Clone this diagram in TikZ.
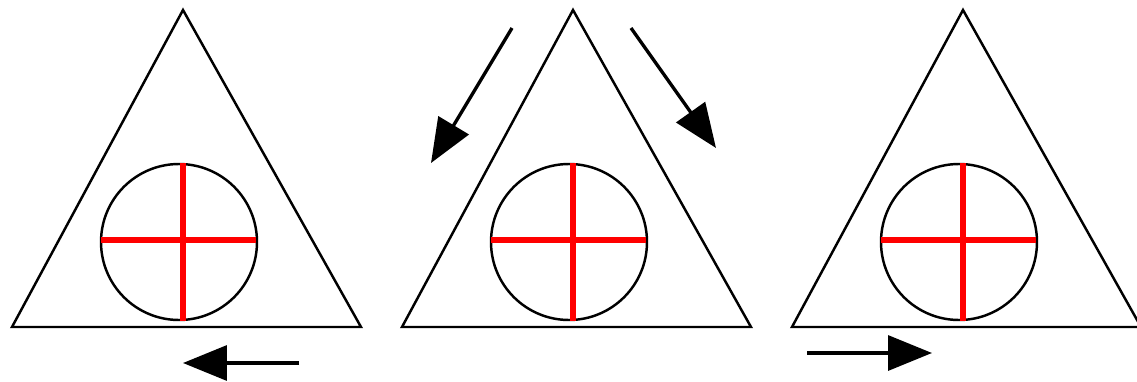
\documentclass[tikz,border=0pt]{standalone}
\usepackage{tikz}
\usetikzlibrary{arrows.meta}
\definecolor{crossred}{HTML}{FF0000}

\begin{document}
\begin{tikzpicture}[
    x=0.02cm,y=-0.02cm,
    tri/.style={draw=black,line width=1.4pt,line join=miter},
    ring/.style={draw=black,line width=1.4pt},
    bar/.style={draw=crossred,line width=3.6pt},
    arr/.style={-{Triangle[length=0.88cm,width=0.7cm]},line width=1.9pt,draw=black}
  ]
    \useasboundingbox (0,0) rectangle (1137,382);
    % three triangles, each with a circle and a red cross
    \foreach \i/\dx in {1/0,2/390,3/780} {
      \coordinate (top\i) at (183+\dx,10);
      \coordinate (bl\i) at (12+\dx,327);
      \coordinate (br\i) at (361+\dx,327);
      \coordinate (c\i) at (179+\dx,242);
      \draw[tri] (top\i) -- (bl\i) -- (br\i) -- cycle;
      \draw[ring] (c\i) circle[radius=78];
      \draw[bar] (101+\dx,240) -- (256+\dx,240);
      \draw[bar] (183+\dx,163) -- (183+\dx,321);
    }
    % motion arrows
    \coordinate (a1) at (299,363);
    \coordinate (b1) at (183,363);
    \coordinate (a2) at (512,28);
    \coordinate (b2) at (431,163);
    \coordinate (a3) at (631,28);
    \coordinate (b3) at (716,148);
    \coordinate (a4) at (807,353);
    \coordinate (b4) at (932,353);
    \foreach \a/\b in {a1/b1,a2/b2,a3/b3,a4/b4}
      \draw[arr] (\a) -- (\b);
  \end{tikzpicture}
\end{document}
